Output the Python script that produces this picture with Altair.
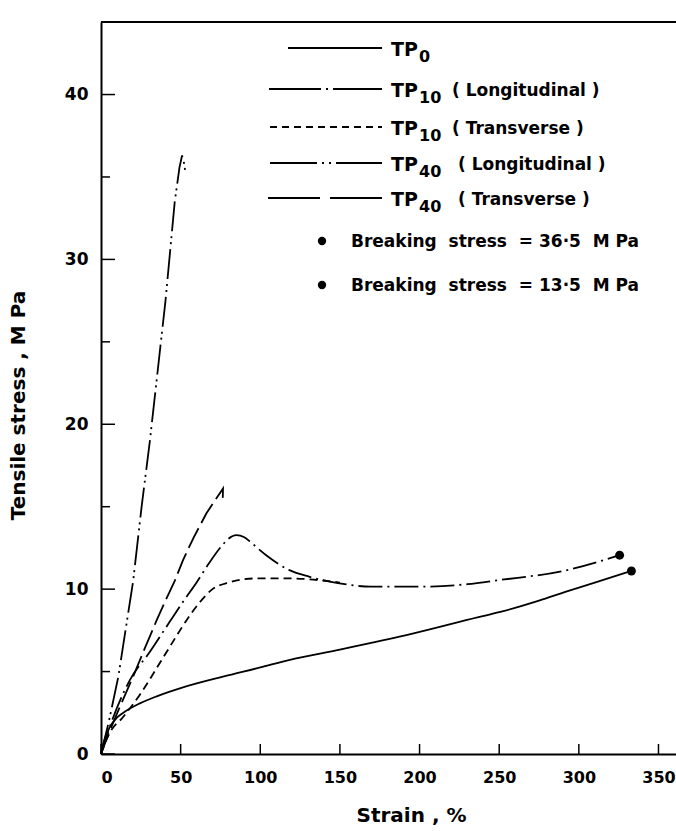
import altair as alt
import pandas as pd

# ---------------- data ----------------
tp0_x = [0, 2, 5.6, 10, 14, 24.4, 35, 49.5, 76.6, 100, 118, 150.7, 195.6, 237, 250, 275, 292, 310, 333]
tp0_y = [0, 0.8, 1.65, 2.2, 2.5, 3.07, 3.5, 3.98, 4.69, 5.25, 5.7, 6.35, 7.3, 8.3, 8.6, 9.3, 9.85, 10.4, 11.1]

tp10l_x = [0, 5, 18.2, 30.7, 43, 52, 60, 68, 75.6, 80, 85, 90, 93.3, 103.7, 118.3, 130.9, 149.7, 169.6, 200, 230, 250, 290, 325.6]
tp10l_y = [0, 1.5, 4.5, 6.2, 8.0, 9.3, 10.4, 11.6, 12.6, 13.05, 13.27, 13.15, 12.9, 12.06, 11.15, 10.75, 10.35, 10.15, 10.15, 10.3, 10.55, 11.1, 12.06]

tp10t_x = [0, 5, 14, 24.4, 34.9, 40, 47, 55, 62, 70, 80, 97.5, 118, 150]
tp10t_y = [0, 1.2, 2.26, 3.6, 5.2, 6.0, 7.1, 8.3, 9.2, 10.0, 10.4, 10.65, 10.65, 10.4]

tp40l_x = [0, 5, 10.9, 20.2, 25.5, 30.7, 40.5, 46.3, 49.3, 50.9, 52, 53]
tp40l_y = [0, 2.0, 4.7, 10.5, 15.0, 19.0, 27.5, 33.5, 35.6, 36.3, 35.9, 35.3]

tp40t_x = [0, 5, 12, 20.2, 27, 34.9, 40, 46.3, 51.5, 58, 66.2, 71, 74.5, 76.6, 76.5, 76.3]
tp40t_y = [0, 1.3, 2.9, 4.7, 6.3, 8.1, 9.2, 10.5, 11.76, 13.1, 14.6, 15.3, 15.8, 16.1, 15.7, 15.3]

break_x = [325.6, 333]
break_y = [12.06, 11.1]

x_ticks = [0, 50, 100, 150, 200, 250, 300, 350]
y_major = [0, 10, 20, 30, 40]
y_minor = [5, 15, 25, 35]

legend_sub = ["0", "10", "10", "40", "40"]
legend_desc = ["", "( Longitudinal )", "( Transverse )", "( Longitudinal )", "( Transverse )"]
break_labels = ["Breaking\u00a0\u00a0stress\u00a0\u00a0=\u00a036\u00b75\u00a0\u00a0M\u00a0Pa",
                "Breaking\u00a0\u00a0stress\u00a0\u00a0=\u00a013\u00b75\u00a0\u00a0M\u00a0Pa"]

# ---------------- layout / style ----------------
W, H = 575, 732
FONT = "DejaVu Sans"
xs = alt.Scale(domain=[0, 361], nice=False, zero=False)
ys = alt.Scale(domain=[0, 44.4], nice=False, zero=False)
xa = alt.Axis(values=x_ticks, title="Strain , %", titleX=310, titleY=61,
              titleBaseline="middle", labelPadding=15, labelFontSize=16)
ya = alt.Axis(values=y_major, title="Tensile stress , M Pa", titleX=-83, titleY=383,
              titleAlign="center", titleBaseline="middle", labelPadding=13)


def X(f="x"):
    return alt.X(f + ":Q", scale=xs, axis=xa)


def Y(f="y"):
    return alt.Y(f + ":Q", scale=ys, axis=ya)


def curve(xv, yv, dash, interp="monotone"):
    df = pd.DataFrame({"x": xv, "y": yv, "i": list(range(len(xv)))})
    kw = dict(color="black", strokeWidth=1.8, interpolate=interp)
    if dash:
        kw["strokeDash"] = dash
    return alt.Chart(df).mark_line(**kw).encode(x=X(), y=Y(), order="i:Q")


layers = [
    curve(tp0_x, tp0_y, None),
    curve(tp10l_x, tp10l_y, [24, 5, 2, 5]),
    curve(tp10t_x, tp10t_y, [8, 5]),
    curve(tp40l_x, tp40l_y, [30, 5, 2, 4, 2, 5], interp="linear"),
    curve(tp40t_x, tp40t_y, [22, 6], interp="linear"),
]

# breaking points
layers.append(
    alt.Chart(pd.DataFrame({"x": break_x, "y": break_y})).mark_circle(
        color="black", size=80, opacity=1
    ).encode(x=X(), y=Y())
)

# inward ticks
layers.append(
    alt.Chart(pd.DataFrame({"x": x_ticks})).mark_rule(color="black", strokeWidth=1.5).encode(
        x=X(), y=alt.value(H), y2=alt.value(H - 10)
    )
)
layers.append(
    alt.Chart(pd.DataFrame({"y": y_major})).mark_rule(color="black", strokeWidth=1.5).encode(
        y=Y(), x=alt.value(0), x2=alt.value(14)
    )
)
layers.append(
    alt.Chart(pd.DataFrame({"y": y_minor})).mark_rule(color="black", strokeWidth=1.5).encode(
        y=Y(), x=alt.value(0), x2=alt.value(9)
    )
)

# top frame line
one = pd.DataFrame({"k": [0]})
layers.append(
    alt.Chart(one).mark_rule(color="black", strokeWidth=2).encode(
        x=alt.value(0), x2=alt.value(W), y=alt.value(0)
    )
)

# ---------------- legend ----------------
row_y = [26, 67, 105, 141, 176]
line_x0 = [187, 168, 169, 169, 167]
line_x1 = 281
leg_dash = [None, [52, 5, 2, 5], [7, 5], [47, 5, 2, 5, 2, 5], [52, 10]]
for k in range(5):
    kw = dict(color="black", strokeWidth=1.8)
    if leg_dash[k]:
        kw["strokeDash"] = leg_dash[k]
    layers.append(
        alt.Chart(one).mark_rule(**kw).encode(
            x=alt.value(line_x0[k]), x2=alt.value(line_x1), y=alt.value(row_y[k])
        )
    )
    txt = pd.DataFrame({"t": ["TP"], "s": [legend_sub[k]], "d": [legend_desc[k]]})
    base = alt.Chart(txt)
    layers.append(
        base.mark_text(align="left", baseline="alphabetic", font=FONT, fontSize=19,
                       fontWeight="bold", color="black").encode(
            text="t:N", x=alt.value(290), y=alt.value(row_y[k] + 8))
    )
    layers.append(
        base.mark_text(align="left", baseline="alphabetic", font=FONT, fontSize=16,
                       fontWeight="bold", color="black").encode(
            text="s:N", x=alt.value(318), y=alt.value(row_y[k] + 14))
    )
    if legend_desc[k]:
        layers.append(
            base.mark_text(align="left", baseline="alphabetic", font=FONT, fontSize=17,
                           fontWeight="bold", color="black").encode(
                text="d:N", x=alt.value(351 if k < 3 else 357), y=alt.value(row_y[k] + 7))
        )

brk_row_y = [219, 263]
for k in range(2):
    d = pd.DataFrame({"t": [break_labels[k]]})
    layers.append(
        alt.Chart(d).mark_circle(color="black", size=70, opacity=1).encode(
            x=alt.value(221), y=alt.value(brk_row_y[k]))
    )
    layers.append(
        alt.Chart(d).mark_text(align="left", baseline="alphabetic", font=FONT, fontSize=17,
                               fontWeight="bold", color="black").encode(
            text="t:N", x=alt.value(250), y=alt.value(brk_row_y[k] + 6))
    )

chart = alt.layer(*layers).properties(
    width=W, height=H,
    padding={"left": 101, "top": 22, "right": 0, "bottom": 78},
    autosize="none",
).configure_view(stroke=None).configure_axis(
    grid=False, ticks=False, domainColor="black", domainWidth=2,
    labelFont=FONT, labelFontSize=17, labelFontWeight="bold", labelColor="black",
    titleFont=FONT, titleFontSize=20, titleFontWeight="bold", titleColor="black",
)

chart.save("out.html", embed_options={"renderer": "svg", "actions": False})
